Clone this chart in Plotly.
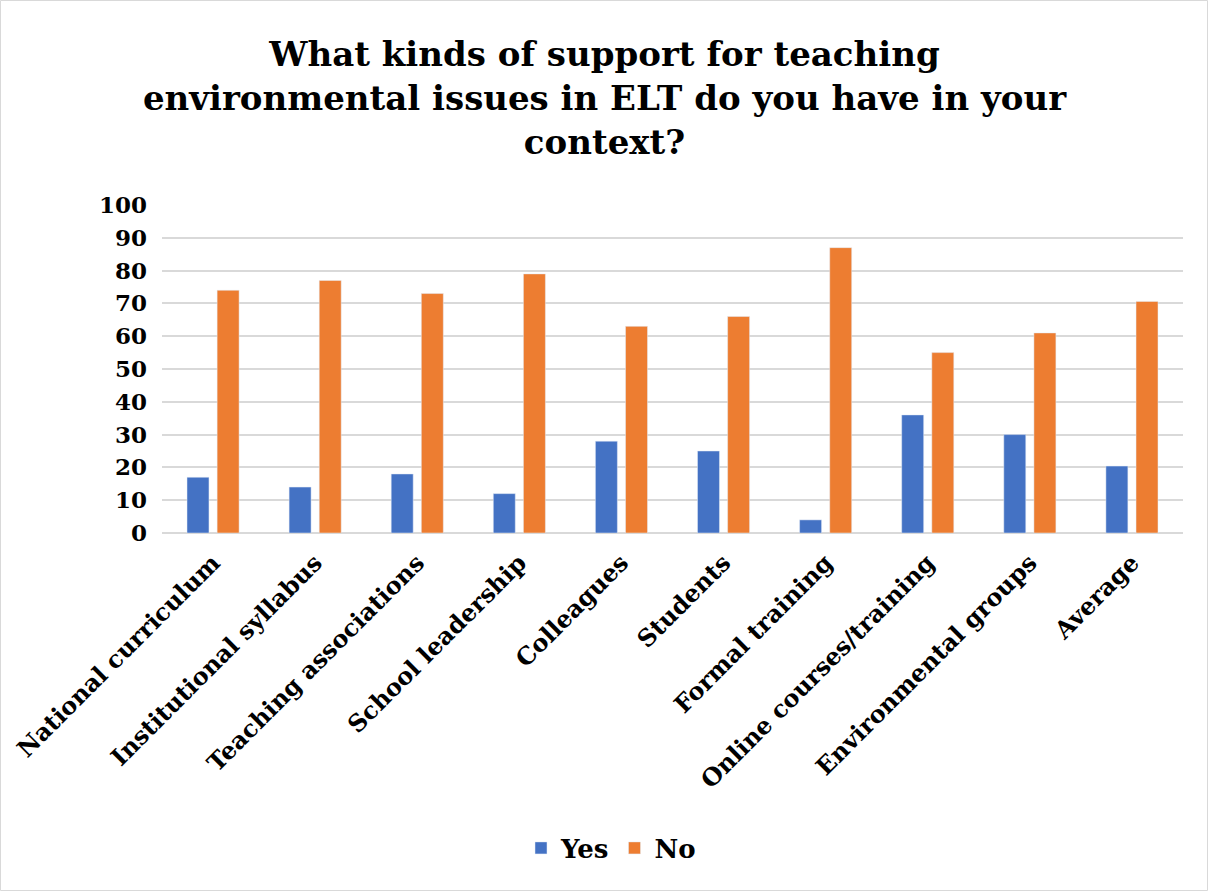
import plotly.graph_objects as go

categories = [
    "National curriculum", "Institutional syllabus", "Teaching associations",
    "School leadership", "Colleagues", "Students", "Formal training",
    "Online courses/training", "Environmental groups", "Average",
]
yes_values = [17, 14, 18, 12, 28, 25, 4, 36, 30, 20.4]
no_values = [74, 77, 73, 79, 63, 66, 87, 55, 61, 70.6]
y_ticks = [0, 10, 20, 30, 40, 50, 60, 70, 80, 90, 100]

W, H = 1209, 892
ML, MR, MT, MB = 162, 26, 205, 359
FONT = "DejaVu Serif"

fig = go.Figure()
fig.add_trace(go.Bar(name="Yes", x=categories, y=yes_values, marker_color="#4472C4"))
fig.add_trace(go.Bar(name="No", x=categories, y=no_values, marker_color="#ED7D31"))

pw, ph = W - ML - MR, H - MT - MB
def px(x):
    return (x - ML) / pw
def py(y):
    return (H - MB - y) / ph

fig.update_layout(
    width=W, height=H,
    margin=dict(l=ML, r=MR, t=MT, b=MB),
    paper_bgcolor="white", plot_bgcolor="white",
    font=dict(family=FONT, color="black", size=22, weight="bold"),
    barmode="group", bargap=0.41, bargroupgap=0.27,
    title=dict(
        text="What kinds of support for teaching<br>environmental issues in ELT do you have in your<br>context?",
        x=0.5, xanchor="center", y=1 - 66 / H, yanchor="middle",
        font=dict(family=FONT, size=34, weight="bold", color="black"),
    ),
    legend=dict(
        orientation="h", x=px(611), xanchor="center", y=py(848), yanchor="middle",
        font=dict(family=FONT, size=26, weight="bold"),
        itemwidth=30,
    ),
    xaxis=dict(
        tickangle=-45, showgrid=False, showline=False, ticks="",
        ticklabelstandoff=10,
        tickfont=dict(family=FONT, size=24, weight="bold"),
    ),
    yaxis=dict(
        range=[0, 100], tickvals=y_ticks, showgrid=True, gridcolor="#d9d9d9",
        gridwidth=1.5, zeroline=True, zerolinecolor="#d9d9d9", zerolinewidth=1.5,
        showline=False, ticks="", ticklabelstandoff=14,
        tickfont=dict(family=FONT, size=23, weight="bold"),
    ),
    shapes=[dict(
        type="rect", xref="paper", yref="paper",
        x0=px(0.5), x1=px(W - 1.5), y0=py(H - 1.5), y1=py(0.5),
        line=dict(color="#d9d9d9", width=1), layer="below",
    )],
)

fig.write_html("out.html")
